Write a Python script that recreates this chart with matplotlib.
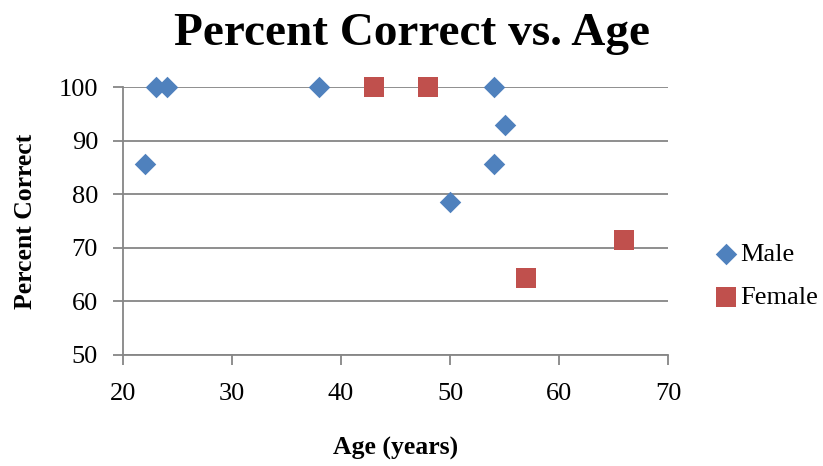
import matplotlib
matplotlib.use('Agg')
import matplotlib.pyplot as plt

# data
male_age = [22, 23, 24, 38, 54, 55, 54, 50]
male_pct = [85.7, 100, 100, 100, 100, 92.9, 85.7, 78.6]
female_age = [43, 48, 57, 66]
female_pct = [100, 100, 64.3, 71.4]

x_ticks = [20, 30, 40, 50, 60, 70]
y_ticks = [50, 60, 70, 80, 90, 100]

plt.rcParams['font.family'] = ['Liberation Serif', 'DejaVu Serif']

fig = plt.figure(figsize=(8.23, 4.66), dpi=100)
ax = fig.add_axes([0.1495, 0.2382, 0.6622, 0.5751])

grey = '#868686'
ax.scatter(male_age, male_pct, marker='D', s=120, color='#4F81BD', label='Male',
           zorder=3, linewidths=0, clip_on=False)
ax.scatter(female_age, female_pct, marker='s', s=200, color='#C0504D', label='Female',
           zorder=3, linewidths=0, clip_on=False)

ax.set_xlim(20, 70)
ax.set_ylim(50, 100)
ax.set_xticks(x_ticks)
ax.set_yticks(y_ticks)
ax.yaxis.grid(True, color=grey, linewidth=1.3)
ax.set_axisbelow(True)

for side in ['top', 'right']:
    ax.spines[side].set_visible(False)
for side in ['left', 'bottom']:
    ax.spines[side].set_color(grey)
    ax.spines[side].set_linewidth(1.3)

ax.tick_params(axis='both', colors=grey, length=7, width=1.3, labelsize=19, labelcolor='black')
ax.tick_params(axis='x', pad=13)
ax.tick_params(axis='y', pad=11)

ax.set_xlabel('Age (years)', fontsize=18.5, fontweight='bold')
ax.set_ylabel('Percent Correct', fontsize=18.5, fontweight='bold')
ax.xaxis.set_label_coords(0.5, -0.305)
ax.yaxis.set_label_coords(-0.158, 0.5)
fig.suptitle('Percent Correct vs. Age', x=0.5, y=0.972, fontsize=34, fontweight='bold')

fig.legend(loc='center left', bbox_to_anchor=(0.866, 0.408), frameon=False, fontsize=19,
           handlelength=1.0, handletextpad=0.05, labelspacing=0.75,
           borderpad=0, borderaxespad=0)

fig.savefig('out.png', dpi=100)
